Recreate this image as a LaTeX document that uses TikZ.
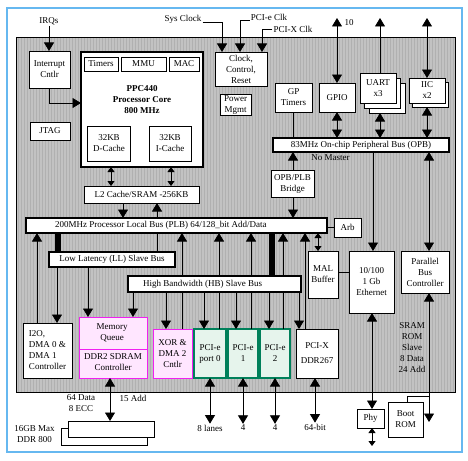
\documentclass[tikz,border=0pt]{standalone}
\usepackage{fontspec}
\setmainfont{Liberation Serif}
\usetikzlibrary{arrows.meta,positioning,calc}
\definecolor{frame}{HTML}{66B8F0}
\definecolor{chip}{HTML}{C2C2C2}
\definecolor{stripe}{HTML}{B0B0B0}
\definecolor{mag}{HTML}{F020F0}
\definecolor{magsoft}{HTML}{FFE6FF}
\definecolor{pcig}{HTML}{00805A}
\definecolor{pcisoft}{HTML}{E6F4EC}

\begin{document}
\begin{tikzpicture}[x=1pt, y=-1pt,
  font=\fontsize{9}{11}\selectfont, >={Triangle[length=8.5pt,width=10pt]},
  box/.style={draw=black, line width=0.7pt, fill=white, align=center, inner sep=1pt, outer sep=0pt},
  bus/.style={box, line width=2pt},
  mbox/.style={box, draw=mag, fill=magsoft},
  pbox/.style={box, draw=pcig, fill=pcisoft, line width=2.3pt},
  wire/.style={line width=0.8pt},
  ar/.style={->, wire},
  dar/.style={<->, wire},
  sar/.style={<->, wire, >={Triangle[length=5pt,width=7pt]}},
  bar/.style={line width=6pt},
  lbl/.style={align=center, inner sep=1pt}]
\useasboundingbox (0,0) rectangle (468,460);
\draw[frame, line width=1.6pt] (7,8) rectangle (462,452);
% chip area
\fill[chip] (16,37) rectangle (455,392);
\foreach \sx in {18,21,...,453}
  \draw[stripe, line width=0.8pt] (\sx,37) -- (\sx,392);
\draw[line width=0.8pt] (16,37) rectangle (455,392);

% interrupt / jtag
\node[lbl] (irq) at (49,21) {IRQs};
\node[box, minimum width=41pt, minimum height=37pt] (intc) at (49.5,69.5) {Interrupt\\Cntlr};
\node[box, minimum width=40pt, minimum height=18pt] (jtag) at (50,131) {JTAG};

% processor core
\node[box, line width=2.6pt, minimum width=122pt, minimum height=115pt] (cpu) at (142,109.5) {};
\node[box, minimum width=34pt, minimum height=14pt] (tmr) at (101,64) {Timers};
\node[box, minimum width=45pt, minimum height=14pt] (mmu) at (143.5,64) {MMU};
\node[box, minimum width=30pt, minimum height=14pt] (mac) at (184,64) {MAC};
\node[lbl, font=\fontsize{9}{11}\selectfont\bfseries] (core) at (142,100) {PPC440\\Processor Core\\800 MHz};
\node[box, minimum width=43pt, minimum height=35pt] (dc) at (109,143.5) {32KB\\D-Cache};
\node[box, minimum width=42pt, minimum height=35pt] (ic) at (170,143.5) {32KB\\I-Cache};
\node[box, minimum width=115pt, minimum height=17pt] (l2) at (141.5,194.5) {L2 Cache/SRAM -256KB};
\draw[ar] (irq.south) -- (irq.south |- intc.north);
\draw[ar] (intc.south) |- (cpu.west |- 0,103);

% clocks
\node[box, minimum width=52pt, minimum height=34pt] (clk) at (241,69) {Clock,\\Control,\\Reset};
\node[box, minimum width=31pt, minimum height=20pt] (pwr) at (235.5,105) {Power\\Mgmt};
\node[lbl] (sysclk) at (183,19) {Sys Clock};
\node[lbl] (pcieclk) at (269,17) {PCI-e Clk};
\node[lbl] (pcixclk) at (293,29) {PCI-X Clk};
\draw[ar] ([yshift=-3pt]sysclk.east) -| (222,0 |- clk.north);
\draw[ar] ([yshift=-3pt]pcieclk.west) -| (240,0 |- clk.north);
\draw[ar] (pcixclk.west) -| (262,0 |- clk.north);

% peripherals on OPB
\node[box, minimum width=37pt, minimum height=29pt] (gpt) at (293.5,97.5) {GP\\Timers};
\node[box, minimum width=36pt, minimum height=29pt] (gpio) at (337,97.5) {GPIO};
\node[box, minimum width=36pt, minimum height=30pt] (uartc) at (387,98) {};
\node[box, minimum width=36pt, minimum height=30pt] (uartb) at (382.5,93) {};
\node[box, minimum width=36pt, minimum height=30pt] (uart) at (378,88) {UART\\x3};
\node[box, minimum width=36pt, minimum height=25pt] (iicb) at (430.5,94.5) {};
\node[box, minimum width=36pt, minimum height=25pt] (iic) at (427,90.5) {IIC\\x2};
\node[bus, minimum width=176pt, minimum height=14pt] (opb) at (361,145) {83MHz On-chip Peripheral Bus (OPB)};
\node[lbl] (nomaster) at (330.5,158) {No Master};
\node[box, minimum width=43pt, minimum height=27pt] (bridge) at (292.5,183.5) {OPB/PLB\\Bridge};

\coordinate (gpiotop) at (337,18);
\coordinate (uarttop) at (380,18);
\coordinate (iictop) at (427,18);
\node[lbl] (ten) at (349,23) {10};
\draw[dar] (gpiotop) -- (gpio.north);
\draw[ar] (380,0 |- uart.north) -- (uarttop);
\draw[dar] (iictop) -- (427,0 |- iic.north);
\draw[wire] (293,0 |- gpt.south) -- (293,0 |- opb.north);
\draw[dar] (gpio.south) -- (gpio.south |- opb.north);
\draw[dar] (380,0 |- uartc.south) -- (380,0 |- opb.north);
\draw[dar] (427,0 |- iicb.south) -- (427,0 |- opb.north);
\draw[ar] (293,0 |- bridge.north) -- (293,0 |- opb.south);

% PLB and slave buses
\node[bus, minimum width=301pt, minimum height=15pt] (plb) at (176.5,225.5) {};
\node[anchor=west, inner sep=0pt] (plbtxt) at ([xshift=29pt]plb.west) {200MHz Processor Local Bus (PLB) 64/128\_bit Add/Data};
\node[box, minimum width=27pt, minimum height=19pt] (arb) at (347.5,227.5) {Arb};
\draw[wire] (arb.west) -- (arb.west -| plb.east);
\draw[ar] (293,0 |- bridge.south) -- (293,0 |- plb.north);
\draw[sar] (111,0 |- cpu.south) -- (111,0 |- l2.north);
\draw[sar] (171,0 |- cpu.south) -- (171,0 |- l2.north);
\draw[ar] (123,0 |- l2.south) -- (123,0 |- plb.north);
\draw[ar] (157,0 |- plb.north) -- (157,0 |- l2.south);

\node[bus, minimum width=126pt, minimum height=15pt] (ll) at (112,259.5) {Low Latency (LL) Slave Bus};

% Ethernet side
\node[box, minimum width=30pt, minimum height=47pt] (mal) at (323,274.5) {MAL\\Buffer};
\node[box, minimum width=45pt, minimum height=62pt] (eth) at (371.5,282) {10/100\\1 Gb\\Ethernet};
\node[box, minimum width=48pt, minimum height=42pt] (pbc) at (425,272) {Parallel\\Bus\\Controller};
\node[lbl] (romtxt) at (412,347.5) {SRAM\\ROM\\Slave\\8 Data\\24 Add};
\draw[sar] (318,0 |- plb.south) -- (318,0 |- mal.north);
\draw[wire] (mal.east |- 0,272) -- (eth.west |- 0,272);
\draw[ar] (373,0 |- opb.south) -- (373,0 |- eth.north);
\draw[dar] (429,0 |- opb.south) -- (429,0 |- pbc.north);

% lower devices
\node[box, align=left, minimum width=49pt, minimum height=55pt] (i2o) at (47.5,350.5) {I2O,\\DMA 0 \&\\DMA 1\\Controller};
\node[mbox, minimum width=68pt, minimum height=61pt] (mem) at (113,347.5) {};
\draw[mag, line width=0.7pt] (mem.west |- 0,349) -- (mem.east |- 0,349);
\node[lbl] (memq) at (112,333) {Memory\\Queue};
\node[lbl] (memc) at (113,362) {DDR2 SDRAM\\Controller};
\node[mbox, minimum width=39pt, minimum height=49pt] (xor) at (172.5,353.5) {XOR \&\\DMA 2\\Cntlr};
\node[pbox, minimum width=32pt, minimum height=49pt] (pe0) at (210,353.5) {PCI-e\\port 0};
\node[pbox, minimum width=30pt, minimum height=49pt] (pe1) at (243,353.5) {PCI-e\\1};
\node[pbox, minimum width=30pt, minimum height=49pt] (pe2) at (275,353.5) {PCI-e\\2};
\node[box, minimum width=42pt, minimum height=49pt] (pcix) at (317,353.5) {PCI-X\\[4pt]DDR267};

% masters up to the PLB (behind the HB bus)
\draw[ar] (37,0 |- i2o.north) -- (37,0 |- plb.south);
\draw[ar] (182,0 |- xor.north) -- (182,0 |- plb.south);
\draw[ar] (219,0 |- pe0.north) -- (219,0 |- plb.south);
\draw[ar] (251,0 |- pe1.north) -- (251,0 |- plb.south);
\draw[ar] (283,0 |- pe2.north) -- (283,0 |- plb.south);
\draw[ar] (305,0 |- pcix.north) -- (305,0 |- plb.south);

\node[bus, minimum width=173pt, minimum height=16pt] (hb) at (214.5,284) {};
\node[anchor=west, inner sep=0pt] (hbtxt) at ([xshift=15pt]hb.west) {High Bandwidth (HB) Slave Bus};
\draw[bar] (58,0 |- plb.south) -- (58,0 |- ll.north);
\draw[bar] (272,0 |- plb.south) -- (272,0 |- hb.north);
\draw[wire] (157,0 |- plb.south) -- (157,0 |- ll.north);

% slaves below LL and HB
\draw[ar] (57,0 |- ll.south) -- (57,0 |- i2o.north);
\draw[ar] (88,0 |- ll.south) -- (88,0 |- mem.north);
\draw[ar] (133,0 |- hb.south) -- (133,0 |- mem.north);
\draw[ar] (166,0 |- hb.south) -- (166,0 |- xor.north);
\draw[ar] (204,0 |- hb.south) -- (204,0 |- pe0.north);
\draw[ar] (236,0 |- hb.south) -- (236,0 |- pe1.north);
\draw[ar] (269,0 |- hb.south) -- (269,0 |- pe2.north);
\draw[ar] (299,0 |- hb.south) -- (299,0 |- pcix.north);

% outside the chip
\draw[box] (61,428) rectangle (147,445);
\node[box, minimum width=86pt, minimum height=16pt] (ddr) at (111,429) {};
\node[lbl] (ddrdat) at (81,403.5) {64 Data\\8 ECC};
\node[lbl] (ddradd) at (133,398) {15 Add};
\node[lbl] (ddrmax) at (34.5,434.5) {16GB Max\\DDR 800};
\draw[dar] (110,0 |- mem.south) -- (110,0 |- ddr.north);

\node[lbl] (lanes8) at (210,428) {8 lanes};
\node[lbl] (lanes4a) at (243,428) {4};
\node[lbl] (lanes4b) at (275,428) {4};
\node[lbl] (bits64) at (315,427) {64-bit};
\draw[dar] (pe0.south) -- (lanes8.north);
\draw[dar] (pe1.south) -- (lanes4a.north);
\draw[dar] (pe2.south) -- (lanes4b.north);
\draw[dar] (315,0 |- pcix.south) -- (bits64.north);

\node[box, minimum width=27pt, minimum height=19pt] (phy) at (370.5,418.5) {Phy};
\node[box, minimum width=35pt, minimum height=35pt] (boot) at (405.5,419.5) {Boot\\ROM};
\coordinate (phyend) at (372,446);
\coordinate (pbcend) at (429,422);
\coordinate (romtap) at (429,396);
\draw[dar] (372,0 |- eth.south) -- (372,0 |- phy.north);
\draw[sar] (372,0 |- phy.south) -- (phyend);
\draw[dar] (429,0 |- pbc.south) -- (pbcend);
\draw[wire] (407,0 |- boot.north) |- (romtap);
\end{tikzpicture}
\end{document}
